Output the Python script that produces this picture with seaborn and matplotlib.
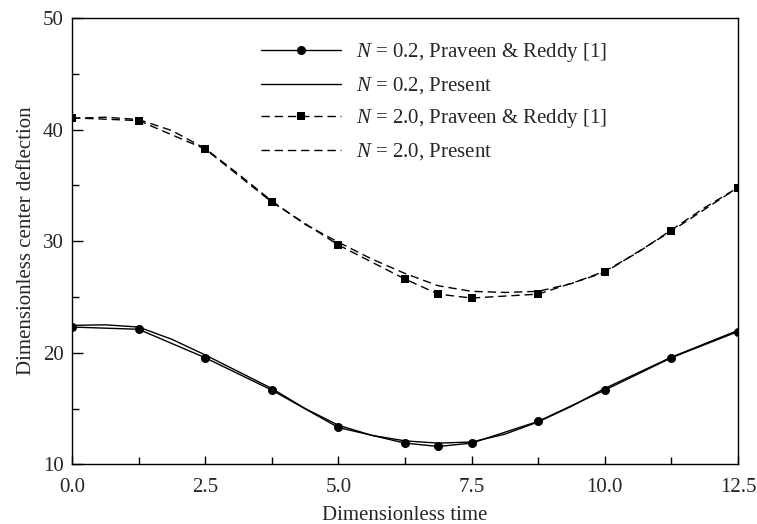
import pandas as pd
import numpy as np
import matplotlib.pyplot as plt
import seaborn as sns
from matplotlib.ticker import MultipleLocator, FormatStrFormatter

sns.set_style("ticks")
plt.rcParams['font.family'] = ['Liberation Serif', 'DejaVu Serif']
plt.rcParams['mathtext.fontset'] = 'custom'
plt.rcParams['mathtext.it'] = 'Liberation Serif:italic'
plt.rcParams['mathtext.rm'] = 'Liberation Serif'
plt.rcParams['font.size'] = 15

# marker data (Praveen & Reddy [1])
t_ref = [0.0, 1.25, 2.5, 3.75, 5.0, 6.25, 6.875, 7.5, 8.75, 10.0, 11.25, 12.5]
ref_n02 = [22.3, 22.1, 19.55, 16.65, 13.3, 11.9, 11.6, 11.9, 13.85, 16.65, 19.55, 21.9]
ref_n20 = [41.05, 40.8, 38.25, 33.5, 29.65, 26.6, 25.25, 24.9, 25.25, 27.2, 30.9, 34.8]

# present solution
t_pre = [0.0, 0.625, 1.25, 1.875, 2.5, 3.125, 3.75, 4.375, 5.0, 5.625, 6.25,
         6.875, 7.5, 8.125, 8.75, 9.375, 10.0, 10.625, 11.25, 11.875, 12.5]
pre_n02 = [22.45, 22.5, 22.3, 21.2, 19.8, 18.3, 16.8, 15.0, 13.5, 12.6, 12.1,
           11.9, 12.0, 12.7, 13.8, 15.2, 16.8, 18.2, 19.6, 20.8, 22.0]
pre_n20 = [41.0, 41.1, 40.9, 39.9, 38.3, 36.0, 33.6, 31.5, 29.9, 28.4, 27.1,
           26.0, 25.5, 25.4, 25.5, 26.2, 27.3, 29.0, 31.0, 33.0, 34.8]

ref_df = pd.DataFrame({'t': t_ref, 'n02': ref_n02, 'n20': ref_n20})
pre_df = pd.DataFrame({'t': t_pre, 'n02': pre_n02, 'n20': pre_n20})

fig = plt.figure(figsize=(7.57, 5.24), dpi=100)
ax = fig.add_axes([0.0951, 0.1139, 0.8798, 0.8519])

dash = (6, 3.5)
sns.lineplot(data=ref_df, x='t', y='n02', ax=ax, color='black', lw=1,
             marker='o', markersize=6.5, markeredgewidth=0,
             label='$N$ = 0.2, Praveen & Reddy [1]')
sns.lineplot(data=pre_df, x='t', y='n02', ax=ax, color='black', lw=1,
             label='$N$ = 0.2, Present')
sns.lineplot(data=ref_df, x='t', y='n20', ax=ax, color='black', lw=1,
             marker='s', markersize=6, markeredgewidth=0,
             label='$N$ = 2.0, Praveen & Reddy [1]')
sns.lineplot(data=pre_df, x='t', y='n20', ax=ax, color='black', lw=1,
             label='$N$ = 2.0, Present')
lines = ax.get_lines()
lines[2].set_dashes(dash)
lines[3].set_dashes(dash)

ax.set_xlim(0, 12.5)
ax.set_ylim(10, 50)
ax.xaxis.set_major_locator(MultipleLocator(2.5))
ax.xaxis.set_minor_locator(MultipleLocator(1.25))
ax.yaxis.set_major_locator(MultipleLocator(10))
ax.yaxis.set_minor_locator(MultipleLocator(5))
ax.xaxis.set_major_formatter(FormatStrFormatter('%.1f'))
ax.tick_params(axis='both', which='both', direction='in', color='black',
               labelsize=15, width=1)
ax.tick_params(axis='y', which='major', length=8, pad=6)
ax.tick_params(axis='y', which='minor', length=5)
ax.tick_params(axis='x', which='major', length=5.5, pad=10)
ax.tick_params(axis='x', which='minor', length=5)
ax.tick_params(top=False, right=False, which='both')
for s in ax.spines.values():
    s.set_color('black')
    s.set_linewidth(1)

ax.set_xlabel('Dimensionless time', fontsize=15, labelpad=6)
ax.set_ylabel('Dimensionless center deflection', fontsize=15, labelpad=5)

ax.legend(loc='upper left', bbox_to_anchor=(251 / 757, 1 - 31 / 524),
          bbox_transform=fig.transFigure, frameon=False, borderpad=0,
          handlelength=3.84, handletextpad=0.72, labelspacing=0.53,
          fontsize=15)

plt.savefig('out.png', dpi=100)
plt.close()
